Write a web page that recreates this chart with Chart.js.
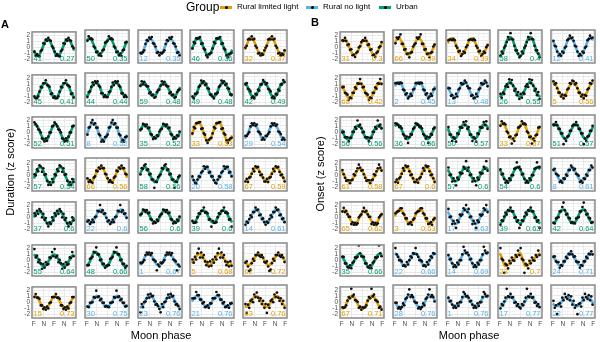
<!DOCTYPE html>
<html>
<head>
<meta charset="utf-8">
<script src="https://cdn.jsdelivr.net/npm/chart.js@4.4.1/dist/chart.umd.min.js"></script>
<style>
    body { margin: 0; width: 600px; height: 342px; position: relative; overflow: hidden; background: #fff;
           font-family: 'Liberation Sans', Arial, sans-serif; color: #000; }
    canvas { position: absolute; }
    .txt { position: absolute; white-space: nowrap; }
    .key { position: absolute; width: 12px; height: 3px; top: 6px; }
    .key i { position: absolute; left: 4.5px; top: -0.5px; width: 3px; height: 3px; border-radius: 50%; background: #000; }
</style>
</head>
<body>
<script>
// ── Data ────────────────────────────────────────────────────────────────
const groupKeys = ['L', 'N', 'U'];
const groupNames = ['Rural limited light', 'Rural no light', 'Urban'];
const groupColors = ['#E69F00', '#56B4E9', '#009E73'];
const xTickLabels = ['F', 'N', 'F', 'N', 'F'];
const yTickLabels = ['-2', '-1', '0', '1', '2'];

// Panel A – duration, row by row
const durationGroup = [
    'U','U','N','U','L',  'U','U','U','U','U',  'U','N','U','L','N',  'U','L','U','N','L',
    'U','N','U','U','N',  'U','U','N','L','L',  'L','N','N','N','L'];
const durationN = [41,50,12,46,32, 45,44,59,49,42, 52,8,35,33,29, 57,66,58,20,67, 37,22,56,39,14, 55,48,1,5,62, 15,30,23,21,63];
const durationR = ['0.27','0.35','0.35','0.36','0.37', '0.41','0.44','0.48','0.48','0.49', '0.51','0.52','0.52','0.53','0.54',
    '0.54','0.56','0.56','0.58','0.59', '0.6','0.6','0.6','0.6','0.61', '0.64','0.66','0.67','0.68','0.72', '0.73','0.75','0.76','0.76','0.76'];
// fitted curve, one lunar cycle (8 steps from F), shown twice
const durationCurve = [
    [-.5,-1.3,-1.3,-.5,.5,1.3,1.3,.5], [.9,1.3,.9,0,-.9,-1.3,-.9,0], [-1.3,-.9,0,.9,1.3,.9,0,-.9], [-.5,.5,1.3,1.3,.5,-.5,-1.3,-1.3], [-.5,.5,1.3,1.3,.5,-.5,-1.3,-1.3],
    [-1.2,-1.2,-.5,.5,1.2,1.2,.5,-.5], [-1.1,-.5,.5,1.1,1.1,.5,-.5,-1.1], [.4,1.0,1.0,.4,-.4,-1.0,-1.0,-.4], [-1.1,-1.1,-.5,.5,1.1,1.1,.5,-.5], [1.1,.5,-.5,-1.1,-1.1,-.5,.5,1.1],
    [1.3,1.3,.5,-.5,-1.3,-1.3,-.5,.5], [-.5,.5,1.3,1.3,.5,-.5,-1.3,-1.3], [0,.8,1.1,.8,0,-.8,-1.1,-.8], [-.6,.6,1.4,1.4,.6,-.6,-1.4,-1.4], [-1.1,-.5,.5,1.1,1.1,.5,-.5,-1.1],
    [-.5,.5,1.3,1.3,.5,-.5,-1.3,-1.3], [-.5,-1.1,-1.1,-.5,.5,1.1,1.1,.5], [0,.8,1.2,.8,0,-.8,-1.2,-.8], [-.4,-1.0,-1.0,-.4,.4,1.0,1.0,.4], [-1.0,-1.0,-.4,.4,1.0,1.0,.4,-.4],
    [0,.8,1.1,.8,0,-.8,-1.1,-.8], [-.4,-1.0,-1.0,-.4,.4,1.0,1.0,.4], [0,.7,1.0,.7,0,-.7,-1.0,-.7], [-.9,-.9,-.4,.4,.9,.9,.4,-.4], [-1.0,-1.0,-.4,.4,1.0,1.0,.4,-.4],
    [1.0,.7,0,-.7,-1.0,-.7,0,.7], [-1.1,-.5,.5,1.1,1.1,.5,-.5,-1.1], [-.9,-.4,.4,.9,.9,.4,-.4,-.9], [-.6,0,.6,.9,.6,0,-.6,-.9], [-.3,-.8,-.8,-.3,.3,.8,.8,.3],
    [1.0,1.0,.4,-.4,-1.0,-1.0,-.4,.4], [-.9,-.6,0,.6,.9,.6,0,-.6], [-1.0,-.7,0,.7,1.0,.7,0,-.7], [0,.6,.9,.6,0,-.6,-.9,-.6], [-.8,-.8,-.3,.3,.8,.8,.3,-.3]];
// z scores, one lunar cycle (16 bins), shown twice
const durationPoints = [
    [-.7,-1.4,-1.1,-1.4,-1.5,-.6,-.4,.7,.6,1.3,1.1,1.6,1.2,1.1,.2,-.1],
    [.9,1.6,1.2,1.3,1.1,0,-.2,-.9,-.8,-1.4,-1.1,-1.5,-.6,-.5,.6,.7],
    [-1.0,-1.1,-.9,-.6,.4,1.0,.9,1.4,1.2,1.5,.5,.4,0,-1.0,-.9,-1.4],
    [-.3,.7,.5,1.3,1.2,1.3,1.5,.4,.5,-.3,-.5,-1.4,-1.7,-1.2,-1.1,-1.0],
    [-.2,.1,1.1,1.2,1.1,1.6,1.1,1.2,.1,-.2,-1.1,-1.0,-1.4,-1.1,-1.3,-.6],
    [-1.0,-1.3,-1.3,-1.0,-.2,.6,.5,1.2,1.2,1.7,.9,.8,.6,-.6,-.5,-1.2],
    [-1.2,-.4,-.3,.4,1.1,.7,1.3,1.0,1.3,.6,.4,-.6,-.6,-1.2,-.9,-1.2],
    [.6,1.3,.8,1.2,.7,.5,.5,-.6,-.4,-.9,-.8,-1.3,-1.2,-.4,-.1,0],
    [-1.1,-1.4,-.7,-.7,-.5,.4,.6,1.4,1.0,1.3,.7,.9,.2,.1,-.8,-.8],
    [.8,1.0,.1,0,-.3,-1.3,-1.1,-1.4,-.7,-.8,0,-.2,.8,.8,1.5,1.2],
    [1.7,1.4,1.0,.5,.4,0,-1.0,-1.1,-1.5,-1.0,-1.4,-.7,0,0,1.0,1.1],
    [-.5,.6,.7,1.4,1.8,1.1,1.3,.6,.6,-.4,-.6,-1.6,-1.3,-1.6,-.9,-.8],
    [.3,.4,1.2,1.1,.8,1.1,.5,.6,-.4,-.5,-1.2,-.9,-1.1,-.6,-.7,0],
    [-.3,.7,.5,1.3,1.3,1.4,1.5,.4,.5,-.3,-.5,-1.4,-1.8,-1.3,-1.1,-1.0],
    [-.7,-.7,-.4,-.1,.8,1.3,1.0,1.3,.9,1.1,0,-.1,-.4,-1.3,-1.0,-1.3],
    [.2,0,1.0,.7,1.7,1.5,.6,1.2,.1,.2,-.9,-1.6,-1.1,-1.6,-.6,-1.1],
    [-.6,-1.2,-.9,-1.2,-1.3,-.5,-.3,.6,.5,1.1,.9,1.4,1.0,1.0,.1,0],
    [0,1.0,.9,1.4,1.6,.7,.8,0,.1,-.8,-.8,-2.1,-1.1,-1.2,-.4,-.2],
    [-.3,-.9,-1.3,-1.4,-.8,-.3,-.4,.3,.5,1.3,.9,1.2,1.2,.3,.4,-.3],
    [-1.1,-.7,-1.2,-.5,-.4,.1,.9,.5,1.3,1.1,1.2,.4,-.1,0,-.5,-1.1],
    [.7,.3,1.1,.6,1.4,1.0,0,.6,-.4,-.1,-1.0,-1.5,-.8,-1.1,0,-.5],
    [-.8,-.6,-1.2,-.9,-.5,-.9,-.1,0,.9,.8,1.8,.7,1.0,.4,.5,-.2],
    [.3,.4,1.1,1.0,.7,1.0,.5,.6,-.4,-.5,-1.1,-.8,-1.0,-.5,-.7,0],
    [-.7,-1.0,-1.0,-.9,-.1,.5,.4,.9,.9,1.4,.6,.7,.5,-.5,-.4,-1.6],
    [-1.3,-.8,-1.0,-.4,.2,-.1,.7,.7,1.4,1.0,1.1,.2,.3,-.4,-.3,-.9],
    [1.9,.5,.8,-.3,.1,-.5,-1.4,-.6,-1.2,-.3,-.7,-.6,.5,.4,1.4,.7],
    [-.9,-.9,.1,.2,.4,1.2,1.1,1.9,.8,.8,-.1,0,-.7,-.7,-1.3,-1.0],
    [-.5,-.6,-.4,-.1,.7,1.1,.8,1.1,.7,1.0,0,-.1,-.3,-1.7,-.8,-1.1],
    [0,-.5,.4,0,1.0,1.7,.3,1.1,.3,.7,-.3,-.9,-.4,-1.1,-.3,-1.0],
    [-.5,-.3,-1.1,-1.8,-1.6,-.6,.1,-.2,.7,.7,1.1,.6,.4,.7,.3,-.4],
    [.9,1.4,.8,.8,.6,-.5,-.5,-1.1,-.8,-1.2,-.7,-1.0,-.1,0,.9,.9],
    [-.8,-.9,-.2,-.2,-.1,.7,.6,1.7,.7,.8,.2,.4,-.2,-.2,-.8,-.7],
    [-1.7,-.4,-.9,-.1,0,.5,1.1,.6,1.2,.8,.9,0,-.5,-.4,-.7,-1.2],
    [.5,.5,.5,1.5,1.0,1.0,.3,.3,-.3,-.1,-.9,-.8,-.6,-1.0,-.3,-.3],
    [-.4,-1.8,-.5,-1.0,.1,.3,-.1,1.1,.7,1.4,.6,.1,.5,-.4,.1,-1.0]];

// Panel B – onset, row by row
const onsetGroup = [
    'L','L','L','U','N',  'L','N','N','U','L',  'U','U','U','L','U',  'L','L','U','U','N',
    'L','L','N','U','U',  'U','N','N','L','N',  'L','N','N','N','N'];
const onsetN = [31,66,34,58,12, 68,2,13,26,5, 56,36,50,33,51, 61,67,57,54,8, 65,3,17,39,42, 35,22,14,23,24, 67,28,1,17,22];
const onsetR = ['0.3','0.39','0.39','0.4','0.41', '0.42','0.45','0.48','0.55','0.56', '0.56','0.56','0.57','0.57','0.57',
    '0.58','0.6','0.6','0.6','0.61', '0.62','0.63','0.63','0.63','0.64', '0.66','0.66','0.69','0.7','0.71', '0.71','0.76','0.76','0.77','0.77'];
const onsetCurve = [
    [.9,1.3,.9,0,-.9,-1.3,-.9,0], [.5,1.2,1.2,.5,-.5,-1.2,-1.2,-.5], [.5,1.2,1.2,.5,-.5,-1.2,-1.2,-.5], [-1.5,-1.1,0,1.1,1.5,1.1,0,-1.1], [1.0,0,-1.0,-1.4,-1.0,0,1.0,1.4],
    [.9,0,-.9,-1.3,-.9,0,.9,1.3], [.5,1.1,1.1,.5,-.5,-1.1,-1.1,-.5], [.5,-.5,-1.1,-1.1,-.5,.5,1.1,1.1], [-1.2,-.8,0,.8,1.2,.8,0,-.8], [1.2,.8,0,-.8,-1.2,-.8,0,.8],
    [.5,-.5,-1.1,-1.1,-.5,.5,1.1,1.1], [.8,1.2,.8,0,-.8,-1.2,-.8,0], [.5,-.5,-1.1,-1.1,-.5,.5,1.1,1.1], [.9,1.3,.9,0,-.9,-1.3,-.9,0], [.8,1.2,.8,0,-.8,-1.2,-.8,0],
    [.8,0,-.8,-1.1,-.8,0,.8,1.1], [-1.1,-1.1,-.5,.5,1.1,1.1,.5,-.5], [.8,0,-.8,-1.1,-.8,0,.8,1.1], [.8,0,-.8,-1.2,-.8,0,.8,1.2], [1.0,.4,-.4,-1.0,-1.0,-.4,.4,1.0],
    [.8,1.2,.8,0,-.8,-1.2,-.8,0], [0,.8,1.2,.8,0,-.8,-1.2,-.8], [.8,0,-.8,-1.2,-.8,0,.8,1.2], [-1.1,-.8,0,.8,1.1,.8,0,-.8], [-1.1,-.8,0,.8,1.1,.8,0,-.8],
    [.8,0,-.8,-1.1,-.8,0,.8,1.1], [1.0,.7,0,-.7,-1.0,-.7,0,.7], [.8,0,-.8,-1.1,-.8,0,.8,1.1], [1.0,.1,-1.0,-.9,-.5,-.1,.3,.7], [.7,0,-.7,-1.0,-.7,0,.7,1.0],
    [-1.1,-.8,0,.8,1.1,.8,0,-.8], [0,-.7,-1.0,-.7,0,.7,1.0,.7], [.6,0,-.6,-.9,-.6,0,.6,.9], [-.9,-.6,0,.6,.9,.6,0,-.6], [-.3,-.7,-.7,-.3,.3,.7,.7,.3]];
const onsetPoints = [
    [1.2,1.1,1.6,1.1,.4,.5,-.4,-.3,-1.3,-1.2,-1.6,-.9,-.7,0,.2,.9],
    [.5,1.4,1.2,1.5,1.9,.4,.4,-.5,-.4,-1.2,-1.1,-1.7,-1.0,-.9,0,.3],
    [1.0,1.1,1.1,1.0,1.2,1.0,.1,-.2,-.8,-.7,-1.5,-1.2,-.8,-1.0,-.1,.2],
    [-1.5,-.8,-1.1,-.2,.1,.7,1.5,1.1,2.1,1.2,1.1,.1,-.6,-.6,-1.1,-1.7],
    [.9,.1,0,-.8,-1.5,-1.2,-1.5,-.8,-1.0,-.2,0,1.0,1.2,1.7,1.3,1.4],
    [.5,.6,-.4,-.5,-.7,-1.6,-1.2,-1.3,-.4,-.4,.5,.3,1.2,1.1,1.9,1.1],
    [1.0,1.0,1.0,.9,1.1,1.0,0,-.1,-.8,-.6,-1.4,-1.1,-.7,-1.0,0,.1],
    [.2,.2,-1.0,-.9,-1.4,-1.3,-.7,-1.1,0,.2,1.0,.8,.9,1.4,1.1,.5],
    [-.7,-1.3,-.5,-.7,.5,.8,.4,1.6,1.0,1.5,.6,-.2,.1,-.9,-.4,-1.5],
    [1.3,.8,1.0,.2,-.5,-.5,-1.1,-.8,-1.4,-.9,-1.0,0,.2,1.0,.9,1.4],
    [0,.1,-.8,-.8,-.8,-1.5,-.9,-.9,.1,.1,.9,.6,2.0,1.0,1.3,.7],
    [1.3,1.2,1.0,.7,.8,.5,-.4,-.6,-1.1,-.8,-1.8,-.9,-.4,-.5,.4,.6],
    [.7,-.5,-.5,-1.5,-.9,-1.1,-1.6,-.3,-.4,.7,.6,.6,1.5,1.0,1.6,.4],
    [.9,1.6,1.2,1.3,1.1,0,-.2,-.9,-.8,-1.9,-1.1,-1.5,-.6,-.5,.6,.7],
    [1.1,1.0,1.5,1.0,.4,.4,-.3,-.3,-2.0,-1.1,-1.5,-.8,-.7,.1,.1,.9],
    [.9,.2,-.4,-.9,-.8,-.8,-1.3,-.8,-.7,.2,0,.7,1.2,1.8,1.3,.8],
    [-1.2,-.8,-1.3,-.6,-.4,.1,1.0,.6,1.4,1.2,1.3,.5,-.1,0,-.6,-1.2],
    [1.1,-.1,0,-1.1,-.6,-1.0,-1.7,-.5,-.8,.3,.1,.2,1.2,.9,2.1,.6],
    [.8,0,.1,-.7,-1.3,-1.0,-1.3,-.6,-.9,-.1,-.1,.9,1.0,1.9,1.1,1.2],
    [.7,.9,.1,0,-.2,-1.2,-1.0,-1.3,-.6,-.7,0,-.2,.7,.7,1.4,1.1],
    [1.0,1.6,.9,1.1,.5,.1,.1,-1.1,-.8,-1.2,-.9,-1.2,-1.0,0,.3,.5],
    [.5,.7,.8,.9,1.3,1.3,.5,.3,-.3,-.3,-1.2,-1.1,-.9,-1.3,-.5,-.3],
    [1.2,-.1,0,-1.2,-.7,-1.1,-1.8,-.6,-.9,.3,.1,.3,1.3,1.0,1.8,.7],
    [-1.3,-.6,-.7,0,.6,.3,1.0,.9,1.4,.8,.8,-.2,-.1,-.8,-.6,-1.8],
    [-1.0,-1.1,-.3,-.2,-.1,.8,.8,1.5,2.2,1.0,.3,.4,-.2,-.3,-1.0,-.9],
    [.6,.6,-.5,-.5,-1.1,-1.2,-.8,-1.3,-.4,-.2,.5,.4,.6,2.5,1.2,.7],
    [1.8,.8,.4,-.1,-.1,-.3,-1.0,-.9,-1.1,-.4,-.8,-.1,.5,.3,1.0,.9],
    [.7,0,.1,-.6,-1.2,-.9,-1.2,-.5,-.8,-.1,-.1,.8,2.0,1.4,1.0,1.1],
    [1.8,.1,-.1,-2.1,-.7,-.9,-1.4,-.2,-.6,.3,-.1,-.2,.7,.4,1.4,.7],
    [.4,.5,-.3,-.4,-.4,-1.3,-.9,-1.0,-.3,-.3,.4,.2,.9,.8,1.3,.8],
    [-.8,-.9,-.8,-.5,.3,.9,.7,2.3,1.0,1.3,.4,.3,.1,-.9,-.7,-1.2],
    [-.2,-.2,-1.1,-.9,-1.2,-.9,-.3,-.6,.4,.6,1.1,1.9,.7,1.0,.7,0],
    [.6,0,.1,-.5,-1.0,-.7,-1.0,-.3,-.7,-.1,-.1,.7,1.5,1.2,.8,.9],
    [-1.1,-.4,-.6,0,.6,2.0,.8,.7,1.2,.6,.7,-.2,-.1,-.7,-.4,-.9],
    [.1,-1.0,-.6,-2.0,-.4,-.3,-.8,.6,.2,1.2,.7,.4,1.0,.2,.8,-.5]];

(function () {
    'use strict';

    /* ── Layout ──────────────────────────────────────────────────────────── */
    const FRAME_W = 47, FRAME_H = 36;
    const PAD_L = 12, PAD_B = 10;
    const COL_STEP = 52.75, ROW_STEP = 42.5, TOP = 27;
    const FONT = "'Liberation Sans', Arial, sans-serif";

    Chart.defaults.font.family = FONT;

    function colorOf(g) { return groupColors[groupKeys.indexOf(g)]; }

    function addText(str, css) {
        const d = document.createElement('div');
        d.className = 'txt';
        d.textContent = str;
        Object.assign(d.style, css);
        document.body.appendChild(d);
        return d;
    }

    /* ── Frame + corner labels ───────────────────────────────────────────── */
    const panelDecor = {
        id: 'panelDecor',
        afterDatasetsDraw(chart, args, opts) {
            const { ctx, chartArea: a } = chart;
            ctx.save();
            ctx.strokeStyle = '#8a8a8a';
            ctx.lineWidth = 1.5;
            ctx.strokeRect(a.left, a.top, a.right - a.left, a.bottom - a.top);
            ctx.fillStyle = opts.color;
            ctx.font = '7.5px ' + FONT;
            ctx.textBaseline = 'bottom';
            ctx.textAlign = 'left';
            ctx.fillText(String(opts.n), a.left + 1.5, a.bottom - 0.5);
            ctx.textAlign = 'right';
            ctx.fillText(opts.r, a.right - 1.5, a.bottom - 0.5);
            ctx.restore();
        }
    };

    function makePanel(left, top, group, n, r, curve, pts, showY, showX) {
        const canvas = document.createElement('canvas');
        canvas.width = PAD_L + FRAME_W + 1;
        canvas.height = 1 + FRAME_H + PAD_B;
        canvas.style.left = (left - PAD_L) + 'px';
        canvas.style.top = (top - 1) + 'px';
        document.body.appendChild(canvas);

        const color = colorOf(group);
        const line = [];
        for (let c = 0; c < 2; c++) curve.forEach((v, k) => line.push({ x: c + k / curve.length, y: v }));
        line.push({ x: 2, y: curve[0] });
        const dots = [];
        for (let c = 0; c < 2; c++) pts.forEach((v, j) => dots.push({ x: c + (j + 0.5) / pts.length, y: v }));

        const tickFont = { size: 6.5, family: FONT };
        new Chart(canvas, {
            type: 'scatter',
            data: {
                datasets: [
                    { data: dots, pointRadius: 1.35, backgroundColor: '#111', borderWidth: 0, order: 0 },
                    { type: 'line', data: line, borderColor: color, borderWidth: 2.6, pointRadius: 0,
                      tension: 0.4, fill: false, order: 1 }
                ]
            },
            options: {
                responsive: false,
                animation: false,
                events: [],
                layout: { padding: { top: 1, right: 1, left: 0, bottom: 0 } },
                plugins: {
                    legend: { display: false },
                    tooltip: { enabled: false },
                    panelDecor: { color, n, r }
                },
                scales: {
                    x: {
                        type: 'linear', min: -0.09, max: 2.09,
                        afterFit: s => { s.height = PAD_B; },
                        border: { display: false },
                        grid: {
                            drawTicks: false,
                            color: c => (c.tick && c.tick.value % 0.5 === 0) ? '#e6e6e6' : '#f2f2f2',
                            lineWidth: c => (c.tick && c.tick.value % 0.5 === 0) ? 0.9 : 0.6
                        },
                        ticks: {
                            display: showX, stepSize: 0.25, includeBounds: false, autoSkip: false,
                            maxRotation: 0, padding: 2, color: '#4d4d4d', font: tickFont,
                            callback: v => (v % 0.5 === 0) ? xTickLabels[Math.round(v / 0.5)] : ''
                        }
                    },
                    y: {
                        type: 'linear', min: -2.6, max: 2.6,
                        afterFit: s => { s.width = PAD_L; },
                        border: { display: false },
                        grid: {
                            drawTicks: false,
                            color: c => (c.tick && Number.isInteger(c.tick.value)) ? '#e6e6e6' : '#f2f2f2',
                            lineWidth: c => (c.tick && Number.isInteger(c.tick.value)) ? 0.9 : 0.6
                        },
                        ticks: {
                            display: showY, stepSize: 0.5, includeBounds: false, autoSkip: false,
                            padding: 2, color: '#4d4d4d', font: tickFont,
                            callback: v => Number.isInteger(v) ? yTickLabels[v + 2] : ''
                        }
                    }
                }
            },
            plugins: [panelDecor]
        });
    }

    function makeGrid(x0, groups, ns, rs, curves, points) {
        for (let i = 0; i < groups.length; i++) {
            const row = Math.floor(i / 5), col = i % 5;
            const left = Math.round(x0 + col * COL_STEP);
            const top = Math.round(TOP + row * ROW_STEP);
            makePanel(left, top, groups[i], ns[i], rs[i], curves[i], points[i], col === 0, row === 6);
        }
    }

    makeGrid(32, durationGroup, durationN, durationR, durationCurve, durationPoints);
    makeGrid(340, onsetGroup, onsetN, onsetR, onsetCurve, onsetPoints);

    /* ── Titles ──────────────────────────────────────────────────────────── */
    addText('A', { left: '1px', top: '18px', fontSize: '11px', fontWeight: 'bold' });
    addText('B', { left: '311px', top: '16px', fontSize: '11px', fontWeight: 'bold' });
    addText('Moon phase', { left: '161px', top: '329px', fontSize: '11px', transform: 'translateX(-50%)' });
    addText('Moon phase', { left: '469px', top: '329px', fontSize: '11px', transform: 'translateX(-50%)' });
    addText('Duration (z score)', { left: '10px', top: '172px', fontSize: '11px',
        transform: 'translate(-50%, -50%) rotate(-90deg)' });
    addText('Onset (z score)', { left: '320px', top: '174px', fontSize: '11px',
        transform: 'translate(-50%, -50%) rotate(-90deg)' });

    /* ── Legend ──────────────────────────────────────────────────────────── */
    addText('Group', { left: '186px', top: '0px', fontSize: '12px', lineHeight: '14px' });
    const keyX = [220, 306, 379], labelX = [237, 323, 396];
    groupNames.forEach((name, i) => {
        const k = document.createElement('div');
        k.className = 'key';
        k.style.left = keyX[i] + 'px';
        k.style.background = groupColors[i];
        k.appendChild(document.createElement('i'));
        document.body.appendChild(k);
        addText(name, { left: labelX[i] + 'px', top: '2px', fontSize: '8px', lineHeight: '10px' });
    });
})();
</script>
</body>
</html>
